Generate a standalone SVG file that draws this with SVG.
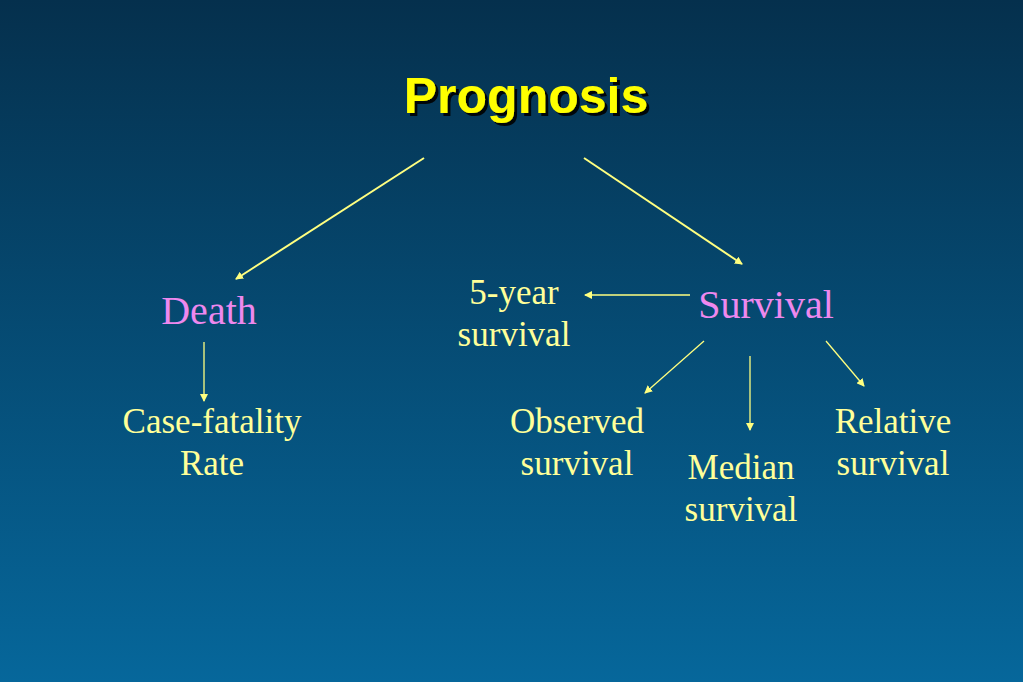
<svg xmlns="http://www.w3.org/2000/svg" width="1023" height="682" viewBox="0 0 1023 682">
<defs>
<linearGradient id="bg" x1="0" y1="0" x2="0" y2="1">
<stop offset="0" stop-color="#05304d"/>
<stop offset="1" stop-color="#06679b"/>
</linearGradient>
<filter id="sh" x="-10%" y="-20%" width="130%" height="150%"><feDropShadow dx="3" dy="3" stdDeviation="0.6" flood-color="#000" flood-opacity="0.9"/></filter>
<marker id="ah" markerWidth="8" markerHeight="8" refX="7" refY="4" orient="auto" markerUnits="userSpaceOnUse"><path d="M0,0 L8,4 L0,8 Z" fill="#ffff80"/></marker>
<style>
.c{stroke:#ffff80;fill:none;marker-end:url(#ah)}
.thick{stroke-width:2}
.thin{stroke-width:1.3}
.y{font-family:"Liberation Serif",serif;font-size:35px;fill:#ffff99;text-anchor:middle}
.p{font-family:"Liberation Serif",serif;font-size:40px;fill:#ee88ee;text-anchor:middle}
</style>
</defs>
<rect width="1023" height="682" fill="url(#bg)"/>
<g id="title"><text x="526" y="113" filter="url(#sh)" font-family="Liberation Sans,Arial,sans-serif" font-weight="bold" font-size="50" fill="#ffff00" text-anchor="middle">Prognosis</text></g>
<g id="connectors">
<line class="c thick" x1="424" y1="158" x2="236" y2="279"/>
<line class="c thick" x1="584" y1="158" x2="742" y2="264"/>
<line class="c thin" x1="690" y1="295" x2="585" y2="295"/>
<line class="c thin" x1="204" y1="342" x2="204" y2="401"/>
<line class="c thin" x1="704" y1="341" x2="645" y2="393"/>
<line class="c thin" x1="750" y1="356" x2="750" y2="430"/>
<line class="c thin" x1="826" y1="341" x2="864" y2="386"/>
</g>
<g id="death"><text class="p" x="209" y="324">Death</text></g>
<g id="survival"><text class="p" x="766" y="318">Survival</text></g>
<g id="fiveyear"><text class="y" x="514" y="304">5-year</text><text class="y" x="514" y="346">survival</text></g>
<g id="cfr"><text class="y" x="212" y="433">Case-fatality</text><text class="y" x="212" y="475">Rate</text></g>
<g id="observed"><text class="y" x="577" y="433">Observed</text><text class="y" x="577" y="475">survival</text></g>
<g id="median"><text class="y" x="741" y="479">Median</text><text class="y" x="741" y="521">survival</text></g>
<g id="relative"><text class="y" x="893" y="433">Relative</text><text class="y" x="893" y="475">survival</text></g>
</svg>
